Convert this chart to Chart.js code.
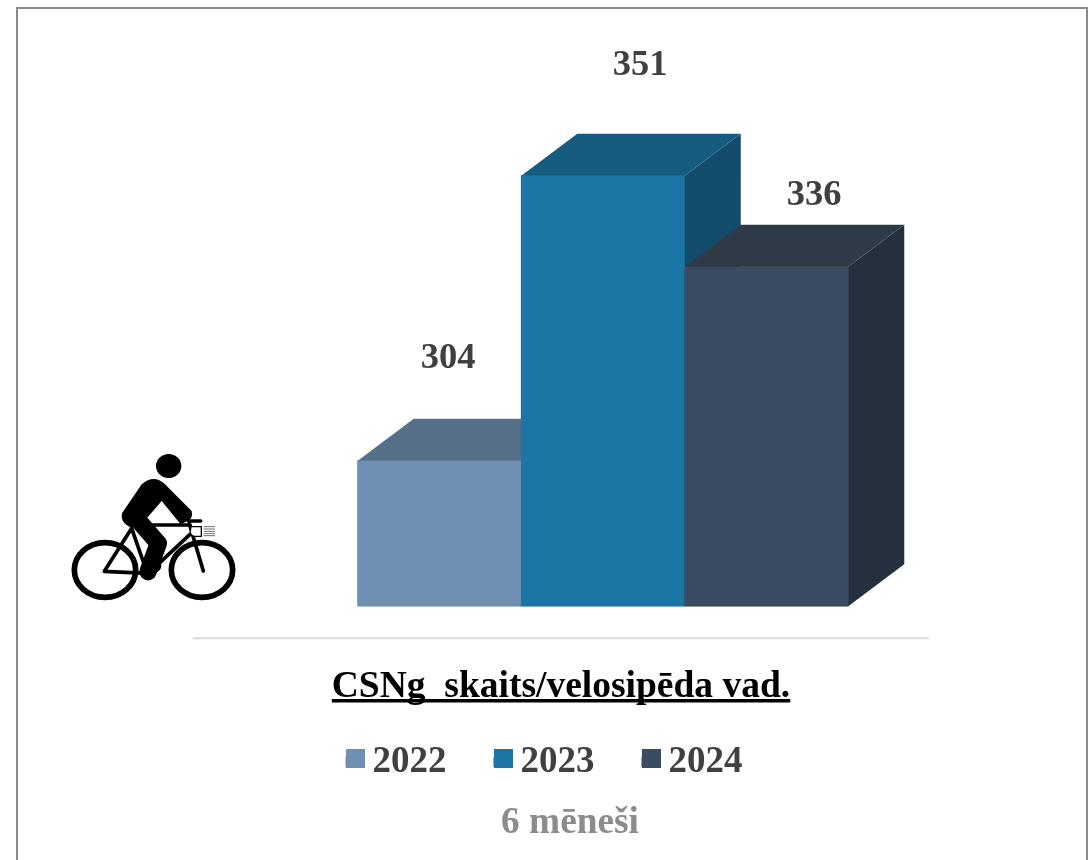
<!DOCTYPE html>
<html>
<head>
<meta charset="utf-8">
<style>
html,body{margin:0;padding:0;background:#fff;overflow:hidden}
#wrap{position:relative;width:1092px;height:860px}
canvas{position:absolute;left:0;top:0}
#bike{position:absolute;left:60px;top:445px}
</style>
<script src="https://cdn.jsdelivr.net/npm/chart.js@4/dist/chart.umd.js"></script>
</head>
<body>
<div id="wrap">
<canvas id="c" width="1092" height="860"></canvas>
<svg id="bike" width="190" height="165" viewBox="0 0 570 495" fill="none" stroke="#000" stroke-linecap="round" stroke-linejoin="round">
  <ellipse cx="326" cy="63" rx="38" ry="36" fill="#000" stroke="none"/>
  <ellipse cx="135" cy="375" rx="92" ry="82" stroke-width="17"/>
  <ellipse cx="426" cy="375" rx="92" ry="82" stroke-width="17"/>
  <g stroke-width="11">
    <path d="M133 379 L215 250 L262 385 Z"/>
    <path d="M228 240 L390 240"/>
    <path d="M265 385 L390 268"/>
    <path d="M388 236 L430 378"/>
  </g>
  <path d="M186 205 L245 118 Q280 88 312 115 L395 198 Q402 222 375 232 L362 238 L305 168 L250 232 L215 248 Q180 235 186 205 Z" fill="#000" stroke="none"/>
  <path d="M385 228 L422 228" stroke-width="11"/>
  <path d="M240 232 L295 295 L264 380" stroke-width="52"/>
  <path d="M262 380 L285 362" stroke-width="38"/>
  <path d="M393 245 H424 V274 H402 Q390 272 391 258 Z" stroke-width="4" fill="#fff"/>
  <path d="M431 245 H465 M431 252 H465 M431 259 H465 M431 266 H465 M431 272 H465" stroke-width="2.5" stroke="#555" stroke-linecap="butt"/>
</svg>
</div>
<script>
const categories = ["6 mēneši"];
const seriesNames = ["2022", "2023", "2024"];
const values2022 = [304];
const values2023 = [351];
const values2024 = [336];
const chartTitle = "CSNg  skaits/velosipēda vad.";

const frontColors = ["#6f8fb2", "#1b75a5", "#3b4c62"];
const topColors = ["#557088", "#155c7e", "#2e3a47"];
const sideColors = ["#46607a", "#134c6b", "#25303f"];
const labelShift = [[8.5, -102], [37, -110], [47.5, -71]];
const depth = {x: 56, y: -42};
const serif = '"Liberation Serif"';

const shiftBox = (box, cx, cy) => {
  const dx = cx - (box.left + box.right) / 2;
  const dy = cy - (box.top + box.bottom) / 2;
  box.left += dx; box.right += dx; box.top += dy; box.bottom += dy;
};

const poly = (ctx, pts, color) => {
  ctx.fillStyle = color;
  ctx.beginPath();
  pts.forEach((p, i) => i ? ctx.lineTo(p[0], p[1]) : ctx.moveTo(p[0], p[1]));
  ctx.closePath();
  ctx.fill();
};

const scene = {
  id: "scene",
  afterLayout(chart) {
    chart.boxes.forEach(b => {
      if (b === chart.titleBlock) shiftBox(b, 561, 687);
      else if (b === chart.legend) shiftBox(b, 544, 743.5);
      else if (b.options && b.options.text === categories[0]) shiftBox(b, 570, 823);
    });
  },
  beforeDraw(chart) {
    const ctx = chart.ctx;
    ctx.save();
    ctx.strokeStyle = "#8a8a8a";
    ctx.lineWidth = 2;
    ctx.strokeRect(17, 8, 1070, 900);
    ctx.strokeStyle = "#d9d9d9";
    ctx.beginPath();
    ctx.moveTo(193, chart.chartArea.bottom + 32);
    ctx.lineTo(929, chart.chartArea.bottom + 32);
    ctx.stroke();
    ctx.restore();
  },
  afterDatasetsDraw(chart) {
    const ctx = chart.ctx;
    chart.data.datasets.forEach((ds, i) => {
      const bar = chart.getDatasetMeta(i).data[0];
      const l = bar.x - bar.width / 2, r = bar.x + bar.width / 2, t = bar.y, b = bar.base;
      ctx.save();
      bar.draw(ctx);
      poly(ctx, [[r, t], [r + depth.x, t + depth.y], [r + depth.x, b + depth.y], [r, b]], sideColors[i]);
      poly(ctx, [[l, t], [l + depth.x, t + depth.y], [r + depth.x, t + depth.y], [r, t]], topColors[i]);
      ctx.restore();
    });
  },
  afterDraw(chart) {
    const ctx = chart.ctx;
    ctx.save();
    ctx.font = "bold 36.5px " + serif;
    ctx.fillStyle = "#404040";
    ctx.textAlign = "center";
    ctx.textBaseline = "middle";
    chart.data.datasets.forEach((ds, i) => {
      const bar = chart.getDatasetMeta(i).data[0];
      ctx.fillText(String(ds.data[0]), bar.x + labelShift[i][0], bar.y + labelShift[i][1]);
    });
    (chart.legend.legendHitBoxes || []).forEach((hit, i) => {
      ctx.fillStyle = frontColors[i];
      ctx.fillRect(Math.round(hit.left), Math.round(hit.top + hit.height / 2 - 13), 19, 19);
    });
    const tb = chart.titleBlock;
    ctx.font = "bold 37.5px " + serif;
    const w = ctx.measureText(chartTitle).width;
    const cx = (tb.left + tb.right) / 2;
    ctx.fillStyle = "#000";
    ctx.fillRect(cx - w / 2, (tb.top + tb.bottom) / 2 + 12, w, 3.5);
    ctx.restore();
  }
};

const makeDataset = (label, data, i) => ({
  label, data,
  backgroundColor: frontColors[i],
  borderWidth: 0,
  base: 280,
  barThickness: 163.5
});

new Chart(document.getElementById("c"), {
  type: "bar",
  plugins: [scene],
  data: {
    labels: categories,
    datasets: [
      makeDataset(seriesNames[0], values2022, 0),
      makeDataset(seriesNames[1], values2023, 1),
      makeDataset(seriesNames[2], values2024, 2)
    ]
  },
  options: {
    responsive: false,
    animation: false,
    layout: {padding: {left: 0, right: 4, top: 0, bottom: 70}},
    scales: {
      x: {display: false},
      y: {
        min: 280, max: 380,
        ticks: {display: false},
        grid: {display: false},
        border: {display: false},
        afterFit(s) { s.width = 118; }
      }
    },
    plugins: {
      tooltip: {enabled: false},
      title: {
        display: true, text: chartTitle, position: "bottom", weight: 900,
        color: "#000", padding: 0,
        font: {family: serif, size: 37.5, weight: "bold", lineHeight: 1.2}
      },
      legend: {
        display: true, position: "bottom", weight: 1000,
        labels: {
          boxWidth: 8.5, boxHeight: 10, padding: 47,
          color: "#404040",
          font: {family: serif, size: 37, weight: "bold", lineHeight: 1.2}
        }
      },
      subtitle: {
        display: true, text: categories[0], position: "bottom", weight: 1500,
        color: "#8c8c8c", padding: 0,
        font: {family: serif, size: 37.3, weight: "bold", lineHeight: 1.2}
      }
    }
  }
});
</script>
</body>
</html>
